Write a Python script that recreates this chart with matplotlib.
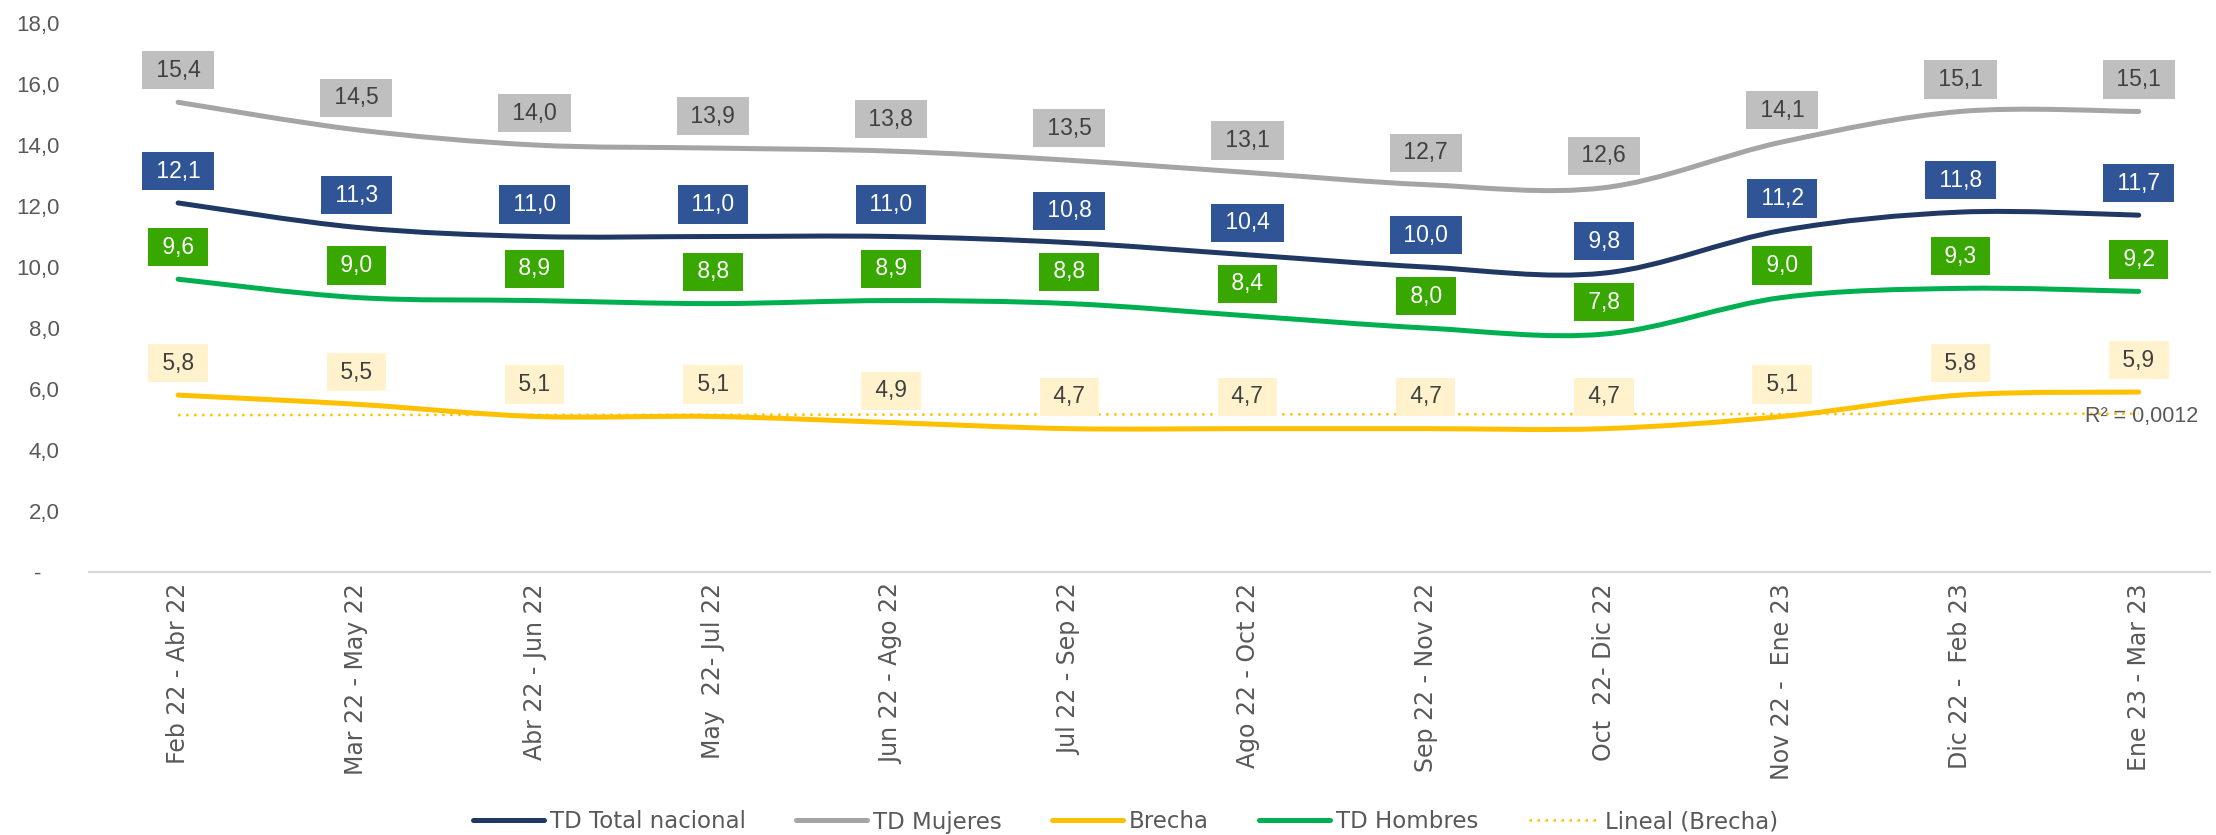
import numpy as np
import matplotlib
matplotlib.use('Agg')  # Non-interactive backend
import matplotlib.pyplot as plt
from matplotlib.path import Path
from matplotlib.patches import PathPatch
from matplotlib.lines import Line2D

# Datos (tasas de desempleo, trimestres moviles)
periodos = ['Feb 22 - Abr 22', 'Mar 22 - May 22', 'Abr 22 - Jun 22', 'May  22- Jul 22',
            'Jun 22 - Ago 22', 'Jul 22 - Sep 22', 'Ago 22 - Oct 22', 'Sep 22 - Nov 22',
            'Oct  22- Dic 22', 'Nov 22 -  Ene 23', 'Dic 22 -  Feb 23', 'Ene 23 - Mar 23']
td_total = [12.1, 11.3, 11.0, 11.0, 11.0, 10.8, 10.4, 10.0, 9.8, 11.2, 11.8, 11.7]
td_mujeres = [15.4, 14.5, 14.0, 13.9, 13.8, 13.5, 13.1, 12.7, 12.6, 14.1, 15.1, 15.1]
brecha = [5.8, 5.5, 5.1, 5.1, 4.9, 4.7, 4.7, 4.7, 4.7, 5.1, 5.8, 5.9]
td_hombres = [9.6, 9.0, 8.9, 8.8, 8.9, 8.8, 8.4, 8.0, 7.8, 9.0, 9.3, 9.2]
r2_label = 'R² = 0,0012'

GRIS_TXT = '#595959'


def smooth_path(y):
    """Excel-like smoothed line (Catmull-Rom as cubic Bezier)"""
    x = np.arange(len(y), dtype=float)
    y = np.asarray(y, dtype=float)
    px = np.r_[x[0], x, x[-1]]
    py = np.r_[y[0], y, y[-1]]
    verts = [(x[0], y[0])]
    codes = [Path.MOVETO]
    for i in range(1, len(x)):
        c1 = (px[i] + (px[i + 1] - px[i - 1]) / 6, py[i] + (py[i + 1] - py[i - 1]) / 6)
        c2 = (px[i + 1] - (px[i + 2] - px[i]) / 6, py[i + 1] - (py[i + 2] - py[i]) / 6)
        verts += [c1, c2, (x[i], y[i])]
        codes += [Path.CURVE4] * 3
    return Path(verts, codes)


fig = plt.figure(figsize=(22.16, 8.35), dpi=100)
ax = fig.add_axes([89 / 2216, 1 - 572 / 835, (2210 - 89) / 2216, (572 - 23) / 835])

series = [
    (td_total, '#1F3864', 'TD Total nacional'),
    (td_mujeres, '#A5A5A5', 'TD Mujeres'),
    (brecha, '#FFC000', 'Brecha'),
    (td_hombres, '#00B050', 'TD Hombres'),
]
for vals, col, _ in series:
    ax.add_patch(PathPatch(smooth_path(vals), fill=False, edgecolor=col, lw=3.6,
                           capstyle='round', joinstyle='round', zorder=3))

# Tendencia lineal de la brecha
xs = np.arange(len(brecha))
coef = np.polyfit(xs, brecha, 1)
trend = np.polyval(coef, xs)
ax.plot(xs, trend, color='#FFC000', lw=1.8, dashes=(1, 2.2), zorder=2)
ax.annotate(r2_label, (xs[-1], trend[-1]), xytext=(-39, -2), textcoords='offset points',
            ha='left', va='center', fontsize=15.5, color=GRIS_TXT, family='Liberation Sans')

# Etiquetas de datos
estilos = [
    (td_total, '#2F5597', 'white'),
    (td_mujeres, '#BFBFBF', '#404040'),
    (brecha, '#FFF2CC', '#404040'),
    (td_hombres, '#38A800', 'white'),
]
for vals, fc, tc in estilos:
    for i, v in enumerate(vals):
        txt = ' ' + f'{v:.1f}'.replace('.', ',') + ' '
        ax.annotate(txt, (i, v), xytext=(0, 23), textcoords='offset points',
                    ha='center', va='center', fontsize=16.5, color=tc, family='Liberation Sans',
                    bbox=dict(boxstyle='square,pad=0.33', fc=fc, ec='none'), zorder=5)

ax.set_xlim(-0.5, 11.4)
ax.set_ylim(0, 18)
ax.set_xticks(xs)
ax.set_xticklabels(periodos, rotation=90, fontsize=17, color=GRIS_TXT, family='DejaVu Sans')
yt = np.arange(0, 19, 2)
ax.set_yticks(yt)
ax.set_yticklabels(['-   ' if t == 0 else f'{t:.1f}'.replace('.', ',') for t in yt],
                   fontsize=16, color=GRIS_TXT, family='Liberation Sans')
ax.tick_params(axis='x', length=0, pad=8)
ax.tick_params(axis='y', length=0, pad=21)
for s in ['top', 'right', 'left']:
    ax.spines[s].set_visible(False)
ax.spines['bottom'].set_color('#D9D9D9')
ax.spines['bottom'].set_linewidth(1.5)

# Leyenda
handles = [Line2D([], [], color=c, lw=3.6, solid_capstyle='round') for _, c, _ in series]
labels = [lab for _, _, lab in series]
handles.append(Line2D([], [], color='#FFC000', lw=1.8, dashes=(1, 2.2)))
labels.append('Lineal (Brecha)')
fig.legend(handles, labels, loc='center', bbox_to_anchor=(0.508, 1 - 822 / 835), ncol=5,
           frameon=False, handlelength=3.1, handletextpad=0.25, columnspacing=2.2,
           labelcolor=GRIS_TXT, prop={'family': 'DejaVu Sans', 'size': 16.5})

plt.savefig('out.png', dpi=100)
